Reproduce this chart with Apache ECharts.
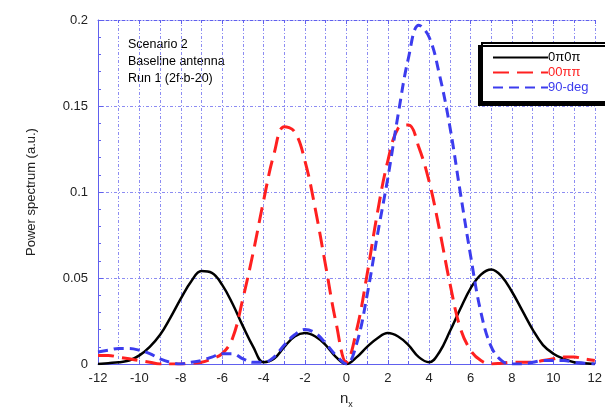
<!DOCTYPE html>
<html>
<head>
<meta charset="utf-8">
<script src="https://cdn.jsdelivr.net/npm/echarts@6/dist/echarts.min.js"></script>
<style>
html, body { margin: 0; padding: 0; background: #fff; }
#chart { width: 605px; height: 414px; }
</style>
</head>
<body>
<div id="chart"></div>
<script>
// n_x sample positions
var nx = [-12, -11.5, -11, -10.5, -10, -9.5, -9, -8.5, -8, -7.5, -7, -6.5, -6, -5.5, -5, -4.5, -4, -3.5, -3, -2.5, -2, -1.5, -1, -0.5,
	0, 0.5, 1, 1.5, 2, 2.5, 3, 3.5, 4, 4.5, 5, 5.5, 6, 6.5, 7, 7.5, 8, 8.5, 9, 9.5, 10, 10.5, 11, 11.5, 12];

// 0π0π
var s0p0p = [0.0, 0.0005, 0.001, 0.002, 0.005, 0.010, 0.017, 0.027, 0.038, 0.048, 0.054, 0.053, 0.046, 0.035, 0.022, 0.010, 0.001, 0.003, 0.010, 0.016, 0.018, 0.016, 0.011, 0.004,
	0.0, 0.004, 0.010, 0.015, 0.018, 0.016, 0.011, 0.004, 0.001, 0.007, 0.019, 0.032, 0.044, 0.052, 0.055, 0.051, 0.042, 0.031, 0.020, 0.011, 0.006, 0.003, 0.001, 0.0005, 0.0];

// 00ππ
var s00pp = [0.005, 0.005, 0.004, 0.003, 0.002, 0.001, 0.0, 0.0, 0.0, 0.0005, 0.001, 0.003, 0.006, 0.015, 0.038, 0.065, 0.095, 0.122, 0.138, 0.135, 0.118, 0.090, 0.057, 0.024,
	0.001, 0.020, 0.052, 0.088, 0.118, 0.137, 0.139, 0.126, 0.106, 0.078, 0.047, 0.021, 0.008, 0.002, 0.0, 0.0005, 0.001, 0.001, 0.001, 0.002, 0.003, 0.004, 0.004, 0.003, 0.002];

// 90-deg
var s90 = [0.007, 0.008, 0.009, 0.009, 0.008, 0.006, 0.003, 0.001, 0.0, 0.001, 0.002, 0.004, 0.006, 0.006, 0.003, 0.001, 0.001, 0.004, 0.011, 0.017, 0.020, 0.018, 0.012, 0.005,
	0.0, 0.012, 0.040, 0.075, 0.108, 0.145, 0.178, 0.197, 0.190, 0.168, 0.138, 0.100, 0.063, 0.030, 0.010, 0.002, 0.0, 0.0, 0.001, 0.002, 0.002, 0.002, 0.001, 0.0005, 0.0];

var noteLines = ['Scenario 2', 'Baseline antenna', 'Run 1 (2f-b-20)'];

function pairs(ys) {
	return nx.map(function (x, i) { return [x, ys[i]]; });
}

var font = '"Liberation Sans", Arial, Helvetica, sans-serif';
var gridBlue = '#8c8cf2';
var axisBlue = '#6060ee';

var myChart = echarts.init(document.getElementById('chart'));

option = {
	backgroundColor: '#fff',
	animation: false,
	textStyle: { fontFamily: font },
	grid: { left: 98, right: 3, top: 20, bottom: 46 },
	legend: {
		orient: 'vertical',
		left: 482,
		top: 43,
		padding: [8, 40, 8, 10],
		itemGap: 2,
		itemWidth: 55,
		itemHeight: 12,
		backgroundColor: '#fff',
		borderColor: '#000',
		borderWidth: 2,
		shadowColor: '#000',
		shadowOffsetX: -3,
		shadowOffsetY: 3,
		shadowBlur: 0,
		itemStyle: { color: 'rgba(0,0,0,0)', borderWidth: 0, opacity: 0 },
		textStyle: { fontFamily: font, fontSize: 13, padding: [0, 0, 0, -5] },
		data: [
			{ name: '0π0π', textStyle: { color: '#000' } },
			{ name: '00ππ', textStyle: { color: '#ff2020' } },
			{ name: '90-deg', textStyle: { color: '#3c3cee' } }
		]
	},
	graphic: [{
		type: 'text',
		left: 128,
		top: 36,
		style: {
			text: noteLines.join('\n'),
			font: '12.5px ' + font,
			fill: '#000',
			lineHeight: 17
		}
	}],
	xAxis: [{
		type: 'value',
		min: -12,
		max: 12,
		interval: 2,
		name: '{a|n}{b|x}',
		nameLocation: 'middle',
		nameGap: 24,
		nameTextStyle: {
			rich: {
				a: { fontSize: 15, color: '#222', fontFamily: font },
				b: { fontSize: 9, color: '#222', fontFamily: font, padding: [12, 0, 0, 0] }
			}
		},
		axisLine: { onZero: false, lineStyle: { color: axisBlue, width: 1 } },
		axisTick: { inside: true, length: 4, lineStyle: { color: axisBlue } },
		minorTick: { show: true, splitNumber: 2, length: 3, lineStyle: { color: axisBlue } },
		axisLabel: { color: '#222', fontSize: 13, margin: 8, fontFamily: font },
		splitLine: { show: true, lineStyle: { color: gridBlue, type: [3, 2, 1, 2], width: 1 } },
		minorSplitLine: { show: true, lineStyle: { color: gridBlue, type: [3, 2, 1, 2], width: 1 } }
	}, {
		type: 'value',
		position: 'top',
		min: -12,
		max: 12,
		interval: 2,
		axisLine: { show: true, onZero: false, lineStyle: { color: axisBlue, width: 1, type: [3, 2, 1, 2] } },
		axisTick: { show: true, inside: true, length: 4, lineStyle: { color: axisBlue } },
		minorTick: { show: true, splitNumber: 2, length: 3, lineStyle: { color: axisBlue } },
		axisLabel: { show: false },
		splitLine: { show: false }
	}],
	yAxis: [{
		type: 'value',
		min: 0,
		max: 0.2,
		interval: 0.05,
		name: 'Power spectrum (a.u.)',
		nameLocation: 'middle',
		nameGap: 60,
		nameTextStyle: { color: '#222', fontSize: 13, fontFamily: font },
		axisLine: { show: true, onZero: false, lineStyle: { color: axisBlue, width: 1 } },
		axisTick: { show: true, inside: true, length: 5, lineStyle: { color: axisBlue } },
		minorTick: { show: true, splitNumber: 5, length: 3, lineStyle: { color: axisBlue } },
		axisLabel: { color: '#222', fontSize: 13, margin: 10, fontFamily: font },
		splitLine: { show: true, lineStyle: { color: gridBlue, type: [3, 2, 1, 2], width: 1 } }
	}],
	series: [{
		name: '0π0π',
		type: 'line',
		smooth: 0.4,
		symbol: 'none',
		color: '#000',
		lineStyle: { color: '#000', width: 2.5 },
		data: pairs(s0p0p),
		z: 3
	}, {
		name: '00ππ',
		type: 'line',
		smooth: 0.4,
		symbol: 'none',
		color: '#ff2020',
		lineStyle: { color: '#ff2020', width: 3, type: [16, 8] },
		data: pairs(s00pp),
		z: 4
	}, {
		name: '90-deg',
		type: 'line',
		smooth: 0.4,
		symbol: 'none',
		color: '#3c3cee',
		lineStyle: { color: '#3c3cee', width: 3, type: [10, 6] },
		data: pairs(s90),
		z: 5
	}]
};

myChart.setOption(option);
</script>
</body>
</html>
